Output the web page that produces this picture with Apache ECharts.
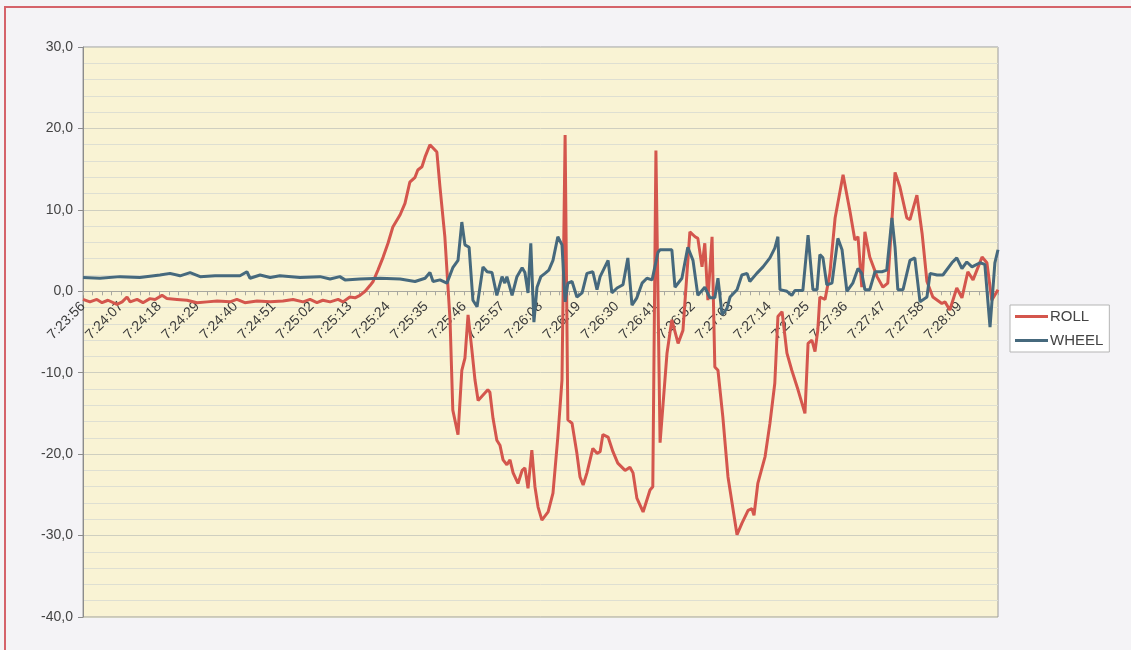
<!DOCTYPE html>
<html>
<head>
<meta charset="utf-8">
<script src="https://cdn.jsdelivr.net/npm/echarts@6/dist/echarts.min.js"></script>
<style>
  body { margin: 0; background: #f4f3f6; }
  .frame {
    position: absolute; left: 4px; top: 6px; right: 0; bottom: 0;
    border-left: 2px solid #d5636a; border-top: 2px solid #d5636a;
  }
  #chart { position: absolute; left: 0; top: 0; width: 1131px; height: 650px; }
</style>
</head>
<body>
<div class="frame"></div>
<div id="chart"></div>
<script>
// seconds after 7:23:56
const rollTime = [0, 2.0, 4.0, 5.5, 7.2, 9.8, 11.3, 12.7, 13.6, 15.6, 17.3, 19.3, 20.8, 22.8, 24.2, 27.1, 30.0, 32.9, 35.8, 38.7,
  42.4, 44.4, 46.7, 50.2, 54.0, 57.7, 60.6, 63.5, 65.5, 67.5, 69.2, 71.3, 73.6, 75.0, 77.0, 78.5, 79.9, 81.4, 82.8, 83.7,
  85.1, 86.6, 88.0, 89.4, 91.5, 92.9, 94.3, 95.8, 96.6, 97.8, 98.7, 100.1, 101.0, 102.1, 103.0, 104.4, 105.9, 106.7, 108.2, 109.3,
  110.2, 111.1, 112.2, 113.1, 114.0, 116.8, 117.4, 118.3, 119.4, 120.3, 121.2, 122.3, 123.2, 124.1, 125.5, 126.7, 127.5, 128.4, 129.5, 130.4,
  131.3, 132.4, 134.2, 135.6, 137.0, 138.2, 139.1, 139.9, 141.1, 142.5, 143.4, 144.3, 145.4, 147.1, 148.3, 149.2, 150.0, 151.5, 152.9, 154.3,
  156.4, 157.8, 158.7, 159.8, 161.6, 163.6, 164.4, 165.3, 166.5, 168.5, 169.9, 171.7, 173.1, 175.1, 176.6, 177.4, 178.6, 179.4, 180.3, 181.5,
  182.3, 183.2, 184.6, 186.1, 188.7, 190.1, 191.9, 193.0, 193.6, 194.7, 196.8, 198.2, 199.6, 200.5, 201.7, 203.1, 204.5, 206.3, 208.3, 209.2,
  210.3, 211.2, 212.0, 212.6, 214.1, 215.5, 217.0, 219.3, 221.3, 222.7, 223.6, 224.7, 225.6, 227.0, 229.1, 230.8, 232.2, 234.3, 235.7, 237.7,
  238.6, 240.6, 242.1, 243.5, 245.2, 247.8, 248.7, 250.1, 252.1, 253.6, 255.3, 256.8, 259.4, 260.8, 262.2, 264.0];
const rollValue = [-1.0, -1.3, -1.0, -1.4, -1.1, -1.6, -1.3, -0.7, -1.3, -1.0, -1.4, -0.9, -1.0, -0.5, -0.9, -1.0, -1.1, -1.4, -1.3, -1.2,
  -1.3, -1.0, -1.4, -1.2, -1.3, -1.2, -1.0, -1.3, -1.0, -1.4, -1.1, -1.3, -1.0, -1.3, -0.7, -0.8, -0.5, 0.0, 0.7, 1.2,
  2.6, 4.2, 5.9, 7.9, 9.4, 10.8, 13.4, 14.0, 14.9, 15.3, 16.5, 18.0, 17.6, 17.1, 12.8, 6.7, -3.5, -14.6, -17.6, -9.7,
  -8.2, -2.9, -7.2, -10.9, -13.4, -12.1, -12.4, -15.6, -18.3, -18.9, -20.7, -21.3, -20.7, -22.3, -23.6, -22.0, -21.7, -24.2, -19.5, -24.0,
  -26.5, -28.1, -27.1, -24.8, -17.9, -10.9, 19.2, -15.8, -16.2, -19.9, -22.8, -23.8, -22.3, -19.3, -19.9, -19.7, -17.6, -17.9, -19.7, -21.1,
  -22.0, -21.6, -22.3, -25.4, -27.1, -24.4, -24.0, 17.3, -18.6, -7.6, -3.5, -6.4, -4.8, 7.3, 6.7, 6.5, 3.0, 5.9, -1.1, 6.7,
  -9.3, -9.7, -15.4, -22.8, -29.9, -28.5, -26.9, -26.7, -27.5, -23.6, -20.3, -16.2, -11.3, -3.1, -2.5, -7.6, -9.7, -12.1, -15.0, -6.4,
  -6.0, -7.4, -4.8, -0.7, -1.0, 2.2, 9.0, 14.3, 9.8, 6.3, 6.7, 0.5, 7.3, 4.2, 1.8, 0.5, 1.0, 14.6, 12.8, 9.0,
  8.8, 11.8, 7.1, 1.2, -0.7, -1.5, -1.3, -2.3, 0.4, -0.8, 2.4, 1.4, 4.2, 3.5, -1.1, 0.2];

const wheelTime = [0, 4.9, 10.7, 16.4, 22.2, 25.1, 28.0, 30.9, 33.8, 38.1, 45.3, 47.3, 48.2, 51.1, 54.0, 56.8, 62.6, 68.4, 71.3, 74.1,
  75.6, 79.9, 85.7, 91.5, 95.8, 98.7, 100.1, 101.0, 103.0, 105.0, 106.7, 108.2, 109.3, 110.2, 111.4, 112.5, 113.7, 115.4, 116.6, 118.0,
  119.4, 120.9, 121.7, 122.3, 123.8, 125.2, 126.7, 127.5, 128.4, 129.2, 130.1, 131.0, 132.1, 133.3, 134.4, 135.6, 137.0, 138.2, 139.1, 139.9,
  141.1, 142.5, 144.0, 145.4, 147.1, 148.3, 149.2, 151.5, 152.6, 154.1, 155.8, 157.2, 158.4, 159.8, 161.3, 162.7, 164.2, 165.0, 165.9, 166.5,
  169.9, 170.8, 172.8, 174.5, 176.0, 177.4, 179.4, 180.9, 182.3, 183.2, 184.4, 185.8, 186.7, 188.7, 190.1, 191.6, 192.4, 194.4, 196.2, 198.2,
  199.6, 200.5, 201.1, 203.1, 204.5, 205.4, 207.7, 209.2, 210.6, 211.8, 212.6, 213.5, 214.6, 216.1, 217.8, 219.0, 220.4, 222.1, 223.6, 224.7,
  225.6, 227.0, 228.5, 230.5, 231.9, 233.4, 234.3, 235.1, 236.6, 238.6, 240.0, 241.5, 243.5, 244.4, 246.4, 248.1, 250.7, 252.1, 253.6, 255.0,
  256.5, 258.8, 260.2, 261.7, 263.1, 264.0];
const wheelValue = [1.7, 1.6, 1.8, 1.7, 2.0, 2.2, 1.9, 2.3, 1.8, 1.9, 1.9, 2.4, 1.6, 2.0, 1.7, 1.9, 1.7, 1.8, 1.5, 1.8,
  1.4, 1.5, 1.6, 1.5, 1.2, 1.6, 2.3, 1.2, 1.4, 1.0, 2.9, 3.8, 8.5, 5.7, 5.4, -1.1, -1.9, 3.0, 2.4, 2.3,
  -0.5, 1.8, 1.0, 1.8, -0.5, 1.8, 2.9, 2.3, -0.2, 5.9, -3.8, 0.5, 1.8, 2.2, 2.6, 3.8, 6.7, 5.7, -1.3, 1.0,
  1.2, -0.7, -0.2, 2.2, 2.4, 0.2, 1.8, 3.8, -0.2, 0.4, 0.8, 4.1, -1.7, -0.8, 1.0, 1.6, 1.4, 3.0, 4.8, 5.1,
  5.1, 0.5, 1.6, 5.4, 3.8, -0.5, 0.5, -0.8, -0.8, 1.6, -2.9, -2.1, -0.7, 0.2, 2.0, 2.2, 1.2, 2.2, 3.0, 4.1,
  5.3, 6.7, 0.2, 0.0, -0.5, 0.1, 0.1, 6.9, 0.2, 0.2, 4.5, 4.1, 0.8, 1.0, 6.5, 5.1, 0.0, 1.0, 2.8, 2.2,
  0.2, 0.2, 2.4, 2.4, 2.6, 9.0, 5.4, 0.2, 0.2, 3.8, 4.1, -1.3, -0.7, 2.2, 2.0, 2.0, 3.5, 4.1, 2.8, 3.6,
  3.0, 3.5, 3.3, -4.4, 3.5, 5.1];

const seriesNames = ['ROLL', 'WHEEL'];
const startSec = 7 * 3600 + 23 * 60 + 56;
const yMin = -40, yMax = 30;

function timeLabel(v) {
  if (v >= 264) return '';
  const s = startSec + Math.round(v);
  const h = Math.floor(s / 3600);
  const m = Math.floor((s % 3600) / 60);
  const sec = s % 60;
  return h + ':' + String(m).padStart(2, '0') + ':' + String(sec).padStart(2, '0');
}

const pairs = (ts, vs) => ts.map((t, i) => [t, vs[i]]);

const plotTop = 47, plotHeight = 570;
// move the time axis up from the bottom edge to the zero line
const zeroOffset = -plotHeight * (0 - yMin) / (yMax - yMin);

const chart = echarts.init(document.getElementById('chart'));
chart.setOption({
  animation: false,
  textStyle: { fontFamily: 'Liberation Sans, Arial, sans-serif' },
  grid: {
    left: 83, top: plotTop, width: 915, height: plotHeight,
    show: true, backgroundColor: '#f9f3d4', borderColor: '#9c9c9c', borderWidth: 1
  },
  legend: {
    orient: 'vertical', left: 1010, top: 305,
    backgroundColor: '#ffffff', borderColor: '#b5b5b5', borderWidth: 1,
    padding: [4, 6, 4, 5], itemGap: 9,
    icon: 'rect', itemWidth: 33, itemHeight: 3,
    textStyle: { fontSize: 15, color: '#444', padding: [0, 0, 0, -3] },
    data: seriesNames
  },
  xAxis: {
    type: 'value', min: 0, max: 264, interval: 11,
    position: 'bottom', offset: zeroOffset,
    axisLine: { onZero: false, lineStyle: { color: '#a8a8a0', width: 1 } },
    axisTick: { show: true, length: 4, lineStyle: { color: '#a8a8a0' } },
    minorTick: { show: true, splitNumber: 4, length: 4, lineStyle: { color: '#a8a8a0' } },
    splitLine: { show: false },
    axisLabel: {
      rotate: 45, fontSize: 14, color: '#3a3a3a', margin: 13,
      showMaxLabel: false, formatter: timeLabel
    }
  },
  yAxis: {
    type: 'value', min: yMin, max: yMax, interval: 10,
    axisLine: { show: true, lineStyle: { color: '#8c8c8c' } },
    axisTick: { show: true, length: 5, lineStyle: { color: '#8c8c8c' } },
    axisLabel: {
      fontSize: 14, color: '#444', margin: 10,
      formatter: v => v.toFixed(1).replace('.', ',')
    },
    splitLine: { show: true, lineStyle: { color: '#cfcfc0', width: 1 } },
    minorTick: { show: false, splitNumber: 5 },
    minorSplitLine: { show: true, lineStyle: { color: '#dedfd2', width: 1 } }
  },
  series: [
    {
      name: seriesNames[0], type: 'line', symbol: 'none',
      data: pairs(rollTime, rollValue),
      lineStyle: { color: '#d4564d', width: 3 },
      itemStyle: { color: '#d4564d' }
    },
    {
      name: seriesNames[1], type: 'line', symbol: 'none',
      data: pairs(wheelTime, wheelValue),
      lineStyle: { color: '#46697d', width: 3 },
      itemStyle: { color: '#46697d' }
    }
  ]
});
</script>
</body>
</html>
